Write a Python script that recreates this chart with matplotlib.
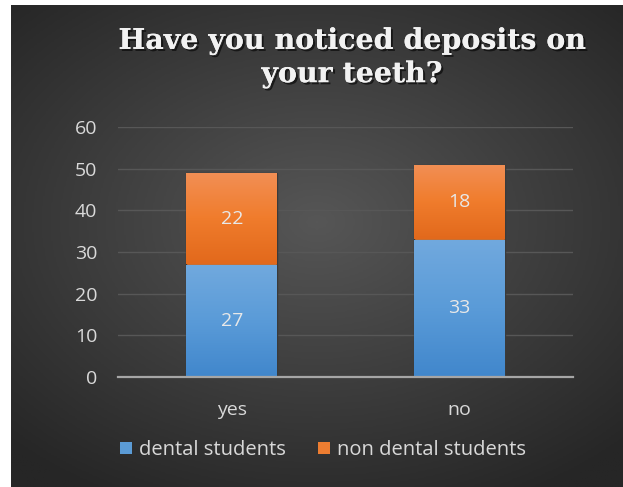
import matplotlib.pyplot as plt
import matplotlib.patheffects as pe
from matplotlib.colors import LinearSegmentedColormap
import numpy as np

categories = ['yes', 'no']
dental = [27, 33]
non_dental = [22, 18]
series_names = ['dental students', 'non dental students']
yticks = [0, 10, 20, 30, 40, 50, 60]

W, H = 623, 487
FONT = 'Open Sans'
fig = plt.figure(figsize=(W / 100, H / 100), dpi=100)
fig.patch.set_facecolor('white')

# dark panel with a soft radial glow
bg = fig.add_axes([11 / W, 0, 1 - 11 / W, 1 - 5 / H])
yy, xx = np.mgrid[-1:1:300j, -1:1:400j]
r = np.sqrt((xx * 0.9) ** 2 + ((yy + 0.1) * 1.0) ** 2)
bg_cmap = LinearSegmentedColormap.from_list('bg', ['#565656', '#3e3e3e', '#262626'])
bg.imshow(r, cmap=bg_cmap, vmin=0, vmax=1.3, aspect='auto', extent=[0, 1, 0, 1])
bg.set_axis_off()

ax = fig.add_axes([118 / W, (H - 377) / H, (573 - 118) / W, (377 - 127) / H])
ax.patch.set_alpha(0)
x = np.arange(len(categories))
width = 0.4

b1 = ax.bar(x, dental, width, color='#5b9bd5', zorder=3, label=series_names[0])
b2 = ax.bar(x, non_dental, width, bottom=dental, color='#ed7d31', zorder=3,
            label=series_names[1])

blue_grad = LinearSegmentedColormap.from_list('bl', ['#4187cc', '#5a9bd8', '#71a9de'])
orange_grad = LinearSegmentedColormap.from_list('or', ['#e2691c', '#f07c2c', '#f28f55'])
grad = np.linspace(0, 1, 100).reshape(-1, 1)
for bars, cm in ((b1, blue_grad), (b2, orange_grad)):
    for p in bars:
        x0, y0 = p.get_x(), p.get_y()
        im = ax.imshow(grad, cmap=cm, aspect='auto', origin='lower',
                       extent=[x0, x0 + p.get_width(), y0, y0 + p.get_height()], zorder=4)
        im.set_clip_path(p)
        p.set_edgecolor('#3a3a3a')

for i in range(len(categories)):
    ax.text(x[i], dental[i] / 2, str(dental[i]), ha='center', va='center',
            color='#e8e8e8', fontsize=14, family=FONT, zorder=5)
    ax.text(x[i], dental[i] + non_dental[i] / 2, str(non_dental[i]), ha='center',
            va='center', color='#e8e8e8', fontsize=14, family=FONT, zorder=5)

ax.set_xlim(-0.5, 1.5)
ax.set_ylim(0, 60)
ax.set_yticks(yticks)
ax.set_xticks(x)
ax.set_xticklabels(categories)
ax.yaxis.grid(True, color='#575757', linewidth=1, zorder=0)
ax.set_axisbelow(True)
for s in ['top', 'right', 'left']:
    ax.spines[s].set_visible(False)
ax.spines['bottom'].set_color('#a6a6a6')
ax.spines['bottom'].set_linewidth(1.6)
ax.spines['bottom'].set_zorder(6)
ax.tick_params(axis='both', length=0, colors='#d9d9d9', labelsize=14)
ax.tick_params(axis='y', pad=15)
ax.tick_params(axis='x', pad=17)
for lbl in ax.get_xticklabels() + ax.get_yticklabels():
    lbl.set_family(FONT)

leg = fig.legend(handles=[b1, b2], labels=series_names, loc='center',
                 bbox_to_anchor=(323 / W, 1 - 450 / H), ncol=2, frameon=False,
                 prop={'family': FONT, 'size': 14.5}, handlelength=0.6,
                 handleheight=0.6, handletextpad=0.35, columnspacing=1.6)
for t in leg.get_texts():
    t.set_color('#d9d9d9')
for h in leg.legend_handles:
    h.set_edgecolor('none')

fig.text(352 / W, 1 - 58 / H, 'Have you noticed deposits on\nyour teeth?',
         ha='center', va='center', fontsize=20.5, fontweight='bold',
         family='DejaVu Serif', color='#f2f2f2', linespacing=1.3,
         path_effects=[pe.withSimplePatchShadow(offset=(1.5, -1.5), shadow_rgbFace='black',
                                                 alpha=0.6), pe.Normal()])

fig.savefig('out.png', dpi=100, facecolor=fig.get_facecolor())
